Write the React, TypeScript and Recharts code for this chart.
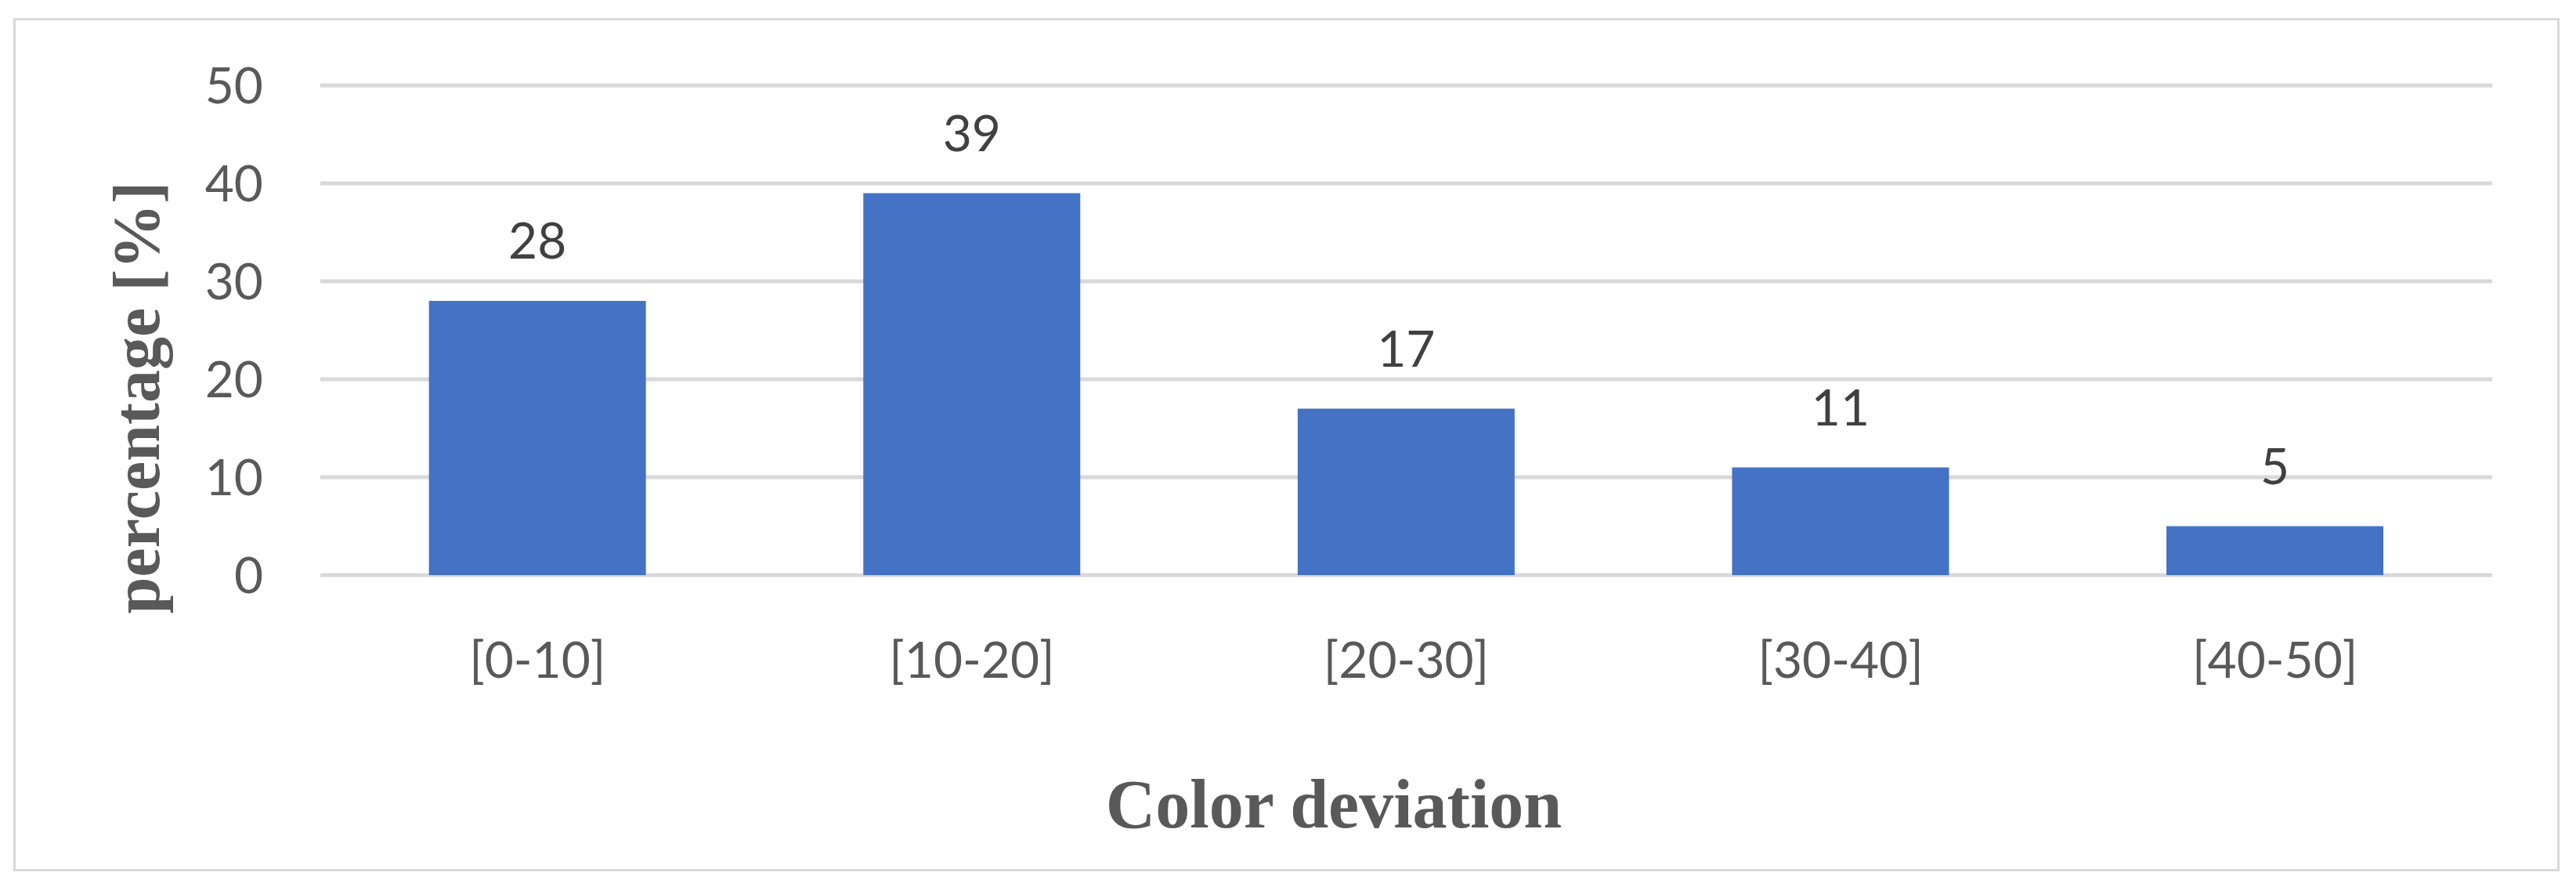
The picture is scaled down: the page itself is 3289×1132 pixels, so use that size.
import { BarChart, Bar, XAxis, YAxis, CartesianGrid, LabelList, Label } from "recharts";

const categories = ["[0-10]", "[10-20]", "[20-30]", "[30-40]", "[40-50]"];
const percentages = [28, 39, 17, 11, 5];
const yTicks = [0, 10, 20, 30, 40, 50];

const data = categories.map((range, i) => ({ range, value: percentages[i] }));

const tickFont = { fontFamily: "Lato, 'Open Sans', sans-serif", fontSize: 64, fill: "#595959" };
const titleFont = "'Liberation Serif', 'Times New Roman', serif";

export default function App() {
  return (
    <div style={{ position: "relative", width: 3289, height: 1132, background: "#fff" }}>
      <style>{`body { margin: 0; }`}</style>
      <div
        style={{
          position: "absolute",
          left: 17,
          top: 23,
          width: 3251,
          height: 1089,
          border: "3px solid #d9d9d9",
          boxSizing: "border-box",
          pointerEvents: "none",
        }}
      />
      <BarChart
        width={3289}
        height={1132}
        data={data}
        margin={{ top: 109, right: 107, bottom: 0, left: 0 }}
        barCategoryGap="25%"
      >
        <CartesianGrid vertical={false} stroke="#d9d9d9" strokeWidth={5} />
        <XAxis
          dataKey="range"
          height={398}
          axisLine={false}
          tickLine={false}
          tickMargin={80}
          tick={tickFont}
          interval={0}
        >
          <Label
            content={({ viewBox }: any) => (
              <text
                x={1703}
                y={viewBox.y + 322}
                textAnchor="middle"
                fontFamily={titleFont}
                fontWeight="bold"
                fontSize={88}
                fill="#595959"
              >
                Color deviation
              </text>
            )}
          />
        </XAxis>
        <YAxis
          width={409}
          domain={[0, 50]}
          ticks={yTicks}
          axisLine={false}
          tickLine={false}
          tickMargin={67}
          tick={tickFont}
        >
          <Label
            content={({ viewBox }: any) => (
              <text
                x={0}
                y={0}
                transform={`translate(${viewBox.x + 203}, ${viewBox.y + viewBox.height / 2 + 86}) rotate(-90)`}
                textAnchor="middle"
                fontFamily={titleFont}
                fontWeight="bold"
                fontSize={84}
                fill="#595959"
              >
                percentage [%]
              </text>
            )}
          />
        </YAxis>
        <Bar dataKey="value" fill="#4472c4" isAnimationActive={false}>
          <LabelList
            dataKey="value"
            position="top"
            offset={54}
            style={{ fontFamily: "Lato, 'Open Sans', sans-serif", fontSize: 64, fill: "#404040" }}
          />
        </Bar>
      </BarChart>
    </div>
  );
}
